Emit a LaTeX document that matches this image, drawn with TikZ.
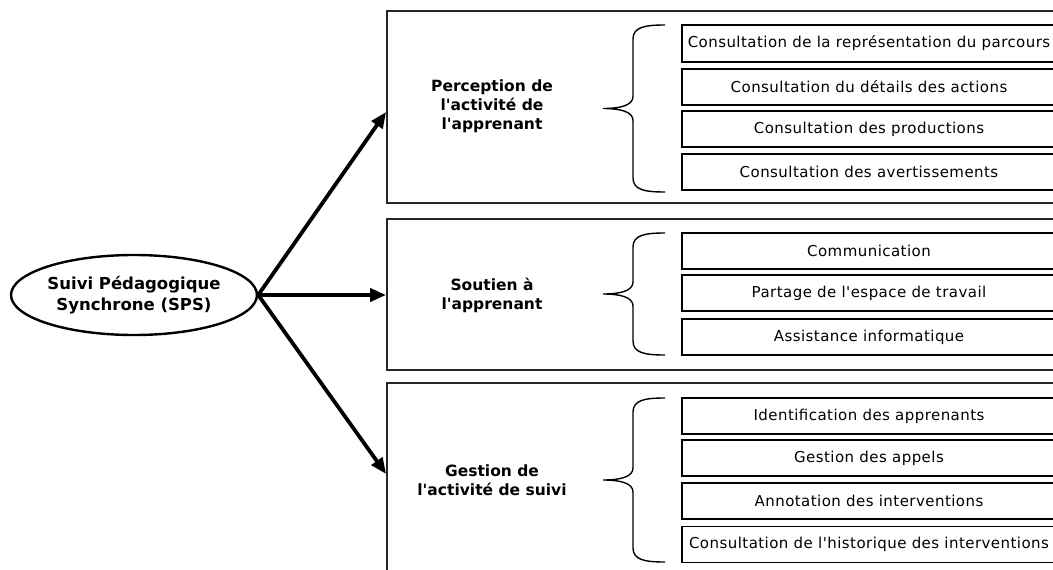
\documentclass[tikz,border=0pt]{standalone}
\usepackage{fontspec}
\setmainfont{DejaVu Sans}[Ligatures=TeXOff]
\newfontfamily\itemfont{DejaVu Sans}[Ligatures=TeXOff, LetterSpace=3]
\usetikzlibrary{arrows.meta,shapes.geometric}
\tikzset{
  bigbox/.style={draw=black!85, line width=1.8pt, rectangle, inner sep=0pt},
  itembox/.style={draw=black, line width=1.3pt, rectangle, inner sep=0pt, minimum width=374pt, minimum height=36pt, font=\itemfont\fontsize{15}{17}\selectfont},
  grouplabel/.style={align=center, font=\fontsize{15.5}{19}\selectfont\bfseries, inner sep=0pt},
  rootnode/.style={draw=black, line width=2.4pt, ellipse, minimum width=246pt, minimum height=80pt, inner sep=0pt, align=center, font=\fontsize{16.5}{21}\selectfont\bfseries},
  bigarrow/.style={line width=3.8pt, -{Triangle[length=16pt,width=13pt]}},
  bracepath/.style={line width=1.4pt}
}
\newcommand{\bracedraw}[3]{% x-tip, top, bottom
  \pgfmathsetmacro{\mid}{(#2+#3)/2}
  \draw[bracepath] (665,#2) .. controls (645,#2) and (633,#2+2) .. (633,#2+14)
    -- (633,\mid-12) .. controls (633,\mid-3) and (620,\mid) .. (603,\mid)
    .. controls (620,\mid) and (633,\mid+3) .. (633,\mid+12)
    -- (633,#3-14) .. controls (633,#3-2) and (645,#3) .. (665,#3);
}
\begin{document}
\begin{tikzpicture}[x=1pt,y=-1pt]
\useasboundingbox (0,0) rectangle (1053,570);
\clip (0,0) rectangle (1053,570);
\fill[white] (0,0) rectangle (1053,570);

% root
\node[rootnode] (sps) at (134,295) {Suivi Pédagogique\\Synchrone (SPS)};

% big boxes
\node[bigbox, minimum width=680pt, minimum height=192pt] (g1) at (727,107) {};
\node[bigbox, minimum width=680pt, minimum height=151pt] (g2) at (727,294.5) {};
\node[bigbox, minimum width=680pt, minimum height=207pt] (g3) at (727,486.5) {};

% group labels
\node[grouplabel] (l1) at (492,106) {Perception de\\l'activité de\\l'apprenant};
\node[grouplabel] (l2) at (492,295) {Soutien à\\l'apprenant};
\node[grouplabel] (l3) at (492,480) {Gestion de\\l'activité de suivi};

% items group 1
\node[itembox, minimum height=37pt] (a1) at (869,43.5) {Consultation de la représentation du parcours};
\node[itembox] (a2) at (869,87) {Consultation du détails des actions};
\node[itembox] (a3) at (869,129) {Consultation des productions};
\node[itembox] (a4) at (869,172) {Consultation des avertissements};

% items group 2
\node[itembox] (b1) at (869,251) {Communication};
\node[itembox] (b2) at (869,293) {Partage de l'espace de travail};
\node[itembox] (b3) at (869,337) {Assistance informatique};

% items group 3
\node[itembox] (c1) at (869,416) {Identification des apprenants};
\node[itembox] (c2) at (869,458) {Gestion des appels};
\node[itembox] (c3) at (869,501) {Annotation des interventions};
\node[itembox] (c4) at (869,544.5) {Consultation de l'historique des interventions};

% braces
\bracedraw{603}{25}{192}
\bracedraw{603}{233}{355}
\bracedraw{603}{398}{562}

% arrows
\coordinate (t1) at (g1.west |- 0,112);
\coordinate (t2) at (g2.west |- 0,295);
\coordinate (t3) at (g3.west |- 0,474);
\draw[bigarrow] (sps.east) -- (t1);
\draw[bigarrow] (sps.east) -- (t2);
\draw[bigarrow] (sps.east) -- (t3);
\end{tikzpicture}
\end{document}
